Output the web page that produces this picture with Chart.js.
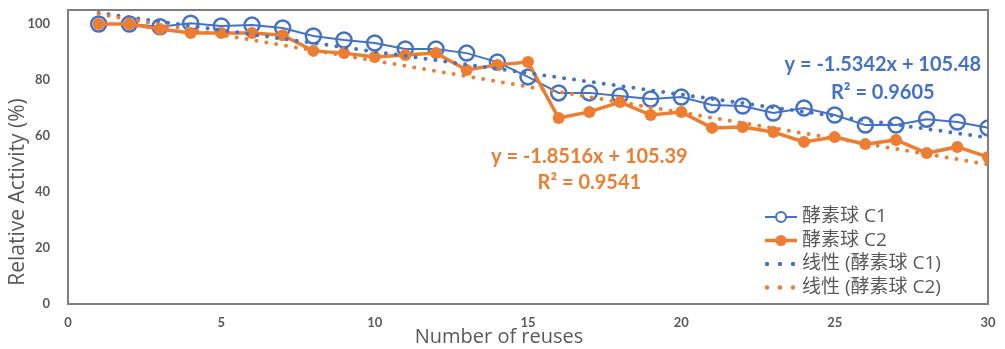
<!DOCTYPE html>
<html><head><meta charset="utf-8">
<script src="https://cdn.jsdelivr.net/npm/chart.js@4"></script>
<style>html,body{margin:0;padding:0;background:#fff}#wrap{width:1005px;height:349px;position:relative}</style>
</head><body><div id="wrap"><canvas id="c" width="1005" height="349"></canvas></div>
<script>
const reuses = [1,2,3,4,5,6,7,8,9,10,11,12,13,14,15,16,17,18,19,20,21,22,23,24,25,26,27,28,29,30];
const c1 = [100,100,99,100.3,99.3,99.6,98.6,95.7,94.3,93.2,91.1,91.1,89.6,86.4,81.1,75.4,75.4,74.3,73.2,73.9,71.1,70.7,68.2,70,67.5,63.9,63.9,66,65,62.9];
const c2 = [100,100,98.2,96.8,96.8,96.8,96,90.4,89.6,88.2,88.9,89.6,83.6,85.4,86.4,66.4,68.6,72.1,67.5,68.6,62.9,63.2,61.4,57.9,59.6,57.1,58.6,53.9,56.1,52.5];
const seriesNames = ['酵素球 C1','酵素球 C2','线性 (酵素球 C1)','线性 (酵素球 C2)'];
const trendSlope = [-1.5342, -1.8516];
const trendIntercept = [105.48, 105.39];
const trendR2 = ['0.9605', '0.9541'];
const xTicks = [0,5,10,15,20,25,30];
const yTicks = [0,20,40,60,80,100];
const xTitle = 'Number of reuses';
const yTitle = 'Relative Activity (%)';

const BLUE = '#4472C4', ORANGE = '#ED7D31', GRAY = '#595959';
const FONT = "Lato, 'Noto Sans CJK SC', sans-serif";
const TFONT = "'Open Sans', 'Noto Sans CJK SC', sans-serif";

const pts = arr => arr.map((v,i)=>({x:reuses[i], y:v}));
const trend = k => [reuses[0], reuses[reuses.length-1]].map(x=>({x, y: trendSlope[k]*x + trendIntercept[k]}));
const eqText = k => 'y = ' + trendSlope[k].toFixed(4) + 'x + ' + trendIntercept[k].toFixed(2);

const extras = {
  id: 'extras',
  beforeDatasetsDraw(chart) {
    const {ctx, chartArea: a} = chart;
    ctx.save();
    ctx.strokeStyle = '#7f7f7f';
    ctx.lineWidth = 2;
    ctx.strokeRect(a.left, a.top, a.right - a.left, a.bottom - a.top);
    ctx.restore();
  },
  afterDraw(chart) {
    const {ctx} = chart;
    const xs = chart.scales.x, ys = chart.scales.y;
    ctx.save();
    // axis titles
    ctx.fillStyle = GRAY;
    ctx.textAlign = 'center'; ctx.textBaseline = 'middle';
    ctx.font = '20px ' + TFONT;
    ctx.fillText(xTitle, 499, 337);
    ctx.save();
    ctx.font = '21px ' + TFONT;
    ctx.translate(18, 192); ctx.rotate(-Math.PI/2);
    ctx.fillText(yTitle, 0, 0);
    ctx.restore();
    // trendline equations
    ctx.font = 'bold 20px ' + FONT;
    const eq = [[26.57, 85.4, 75.4, BLUE], [17.0, 52.5, 43.2, ORANGE]];
    eq.forEach((e, k) => {
      ctx.fillStyle = e[3];
      ctx.fillText(eqText(k), xs.getPixelForValue(e[0]), ys.getPixelForValue(e[1]));
      ctx.fillText('R² = ' + trendR2[k], xs.getPixelForValue(e[0]), ys.getPixelForValue(e[2]));
    });
    // legend
    const lx = 765, tx = 802, y0 = 217, dy = 23.5;
    ctx.textAlign = 'left';
    ctx.font = '19px ' + TFONT;
    seriesNames.forEach((name, i) => {
      const y = y0 + i*dy;
      const col = i % 2 === 0 ? BLUE : ORANGE;
      if (i < 2) {
        ctx.strokeStyle = col; ctx.lineWidth = i === 0 ? 2 : 3.5;
        ctx.beginPath(); ctx.moveTo(lx, y); ctx.lineTo(lx + 32, y); ctx.stroke();
        ctx.beginPath(); ctx.arc(lx + 16, y, i === 0 ? 5 : 5.5, 0, Math.PI*2);
        if (i === 0) { ctx.fillStyle = '#fff'; ctx.fill(); ctx.lineWidth = 2; ctx.stroke(); }
        else { ctx.fillStyle = col; ctx.fill(); }
      } else {
        ctx.fillStyle = col;
        for (let d = 0; d < 3; d++) { ctx.beginPath(); ctx.arc(lx + 2 + d*13, y, 2.2, 0, Math.PI*2); ctx.fill(); }
      }
      ctx.fillStyle = GRAY;
      ctx.fillText(name, tx, y);
    });
    ctx.restore();
  }
};

const zeroPad = s => { s.paddingTop = 0; s.paddingBottom = 0; s.paddingLeft = 0; s.paddingRight = 0; };

new Chart(document.getElementById('c'), {
  type: 'line',
  data: { datasets: [
    { label: seriesNames[0], data: pts(c1), borderColor: BLUE, borderWidth: 2, pointStyle: 'circle', pointRadius: 7.5, pointBorderWidth: 2.5, pointBorderColor: BLUE, pointBackgroundColor: 'rgba(255,255,255,0)', order: 3 },
    { label: seriesNames[1], data: pts(c2), borderColor: ORANGE, borderWidth: 3.5, pointStyle: 'circle', pointRadius: 6, pointBorderWidth: 0, pointBackgroundColor: ORANGE, order: 2 },
    { label: seriesNames[2], data: trend(0), borderColor: BLUE, borderWidth: 4, borderDash: [0, 10], borderCapStyle: 'round', pointRadius: 0, order: 1 },
    { label: seriesNames[3], data: trend(1), borderColor: ORANGE, borderWidth: 4, borderDash: [0, 10], borderCapStyle: 'round', pointRadius: 0, order: 0 }
  ]},
  options: {
    responsive: false, animation: false,
    layout: { padding: { left: 0, right: 17, top: 10, bottom: 0 } },
    plugins: { legend: { display: false }, tooltip: { enabled: false } },
    scales: {
      x: { type: 'linear', min: 0, max: 30,
        afterBuildTicks: s => { s.ticks = xTicks.map(v => ({value: v})); },
        afterFit: s => { s.height = 45; zeroPad(s); },
        grid: { display: false, drawTicks: false },
        border: { display: true, color: '#7f7f7f', width: 2 },
        ticks: { color: GRAY, padding: 11, font: { family: FONT, size: 13, weight: 'bold' } },
        title: { display: false, text: xTitle } },
      y: { type: 'linear', min: 0, max: 105,
        afterBuildTicks: s => { s.ticks = yTicks.map(v => ({value: v})); },
        afterFit: s => { s.width = 68; zeroPad(s); },
        grid: { display: false, drawTicks: false },
        border: { display: true, color: '#7f7f7f', width: 2 },
        ticks: { color: GRAY, padding: 18, font: { family: FONT, size: 13, weight: 'bold' } },
        title: { display: false, text: yTitle } }
    }
  },
  plugins: [extras]
});
</script></body></html>
